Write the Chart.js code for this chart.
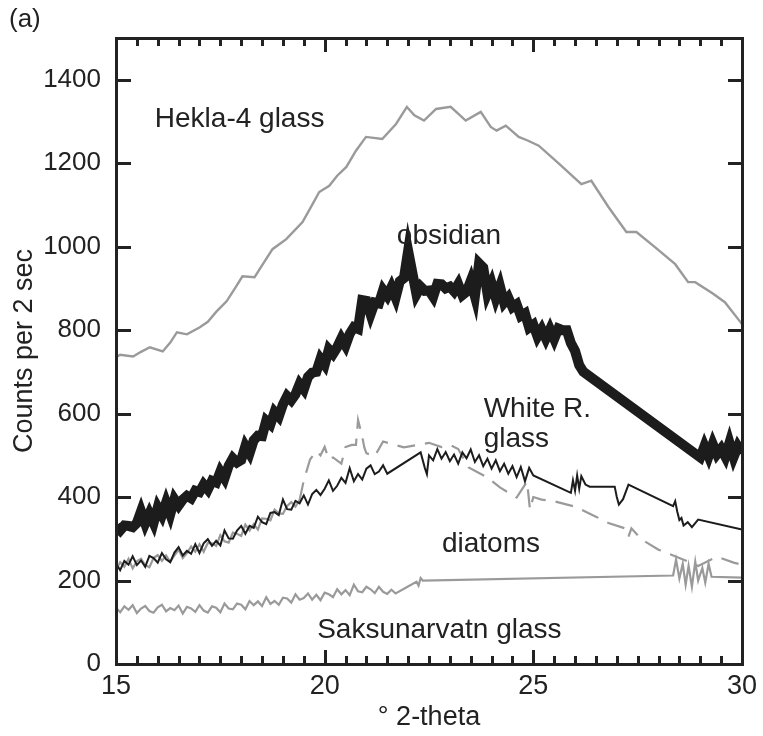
<!DOCTYPE html>
<html><head><meta charset="utf-8">
<script src="https://cdn.jsdelivr.net/npm/chart.js@4"></script>
<style>html,body{margin:0;padding:0;background:#fff;}#wrap{width:763px;height:736px;}</style>
</head><body><div id="wrap"><canvas id="c" width="763" height="736"></canvas></div>
<script>
// ---------- DATA ----------
const xTickLabels = [15, 20, 25, 30];
const yTickLabels = [0, 200, 400, 600, 800, 1000, 1200, 1400];

const heklaX = [15.0,15.1,15.41,15.6,15.81,16.12,16.3,16.46,16.7,17.01,17.2,17.41,17.65,17.85,18.03,18.32,18.5,18.75,19.08,19.47,19.7,19.87,20.11,20.3,20.52,20.75,20.99,21.38,21.71,21.97,22.15,22.38,22.67,23.02,23.38,23.74,23.98,24.12,24.34,24.65,24.85,25.13,25.6,26.15,26.39,26.8,27.23,27.47,27.9,28.4,28.71,28.88,29.3,29.59,29.95,30.0];
const heklaY = [735,741,737,748,759,749,770,795,790,807,820,845,869,900,929,927,955,994,1018,1059,1100,1131,1146,1170,1191,1230,1263,1258,1294,1335,1315,1302,1330,1335,1302,1323,1287,1278,1290,1263,1255,1242,1200,1150,1158,1095,1035,1035,1000,958,915,915,888,867,821,815];

const obsX = [15.0,15.1,15.2,15.3,15.4,15.5,15.6,15.7,15.8,15.9,16.0,16.1,16.2,16.3,16.4,16.5,16.6,16.7,16.8,16.9,17.0,17.1,17.2,17.3,17.4,17.5,17.6,17.7,17.8,17.9,18.0,18.1,18.2,18.3,18.4,18.5,18.6,18.7,18.8,18.9,19.0,19.1,19.2,19.3,19.4,19.5,19.6,19.7,19.8,19.9,20.0,20.1,20.2,20.3,20.4,20.5,20.6,20.7,20.8,20.9,21.0,21.1,21.2,21.3,21.4,21.5,21.6,21.7,21.8,21.9,22.0,22.1,22.2,22.3,22.4,22.5,22.6,22.7,22.8,22.9,23.0,23.1,23.2,23.3,23.4,23.5,23.6,23.7,23.8,23.9,24.0,24.1,24.2,24.3,24.4,24.5,24.6,24.7,24.8,24.9,25.0,25.1,25.2,25.3,25.4,25.5,25.6,25.7,25.8,25.9,26.0,26.1,26.2,29.0,29.1,29.2,29.3,29.4,29.5,29.6,29.7,29.8,29.9,30.0];
const obsY = [330,320,332,331,328,338,366,337,360,338,375,357,387,359,395,380,394,403,397,415,412,430,418,439,435,461,445,475,493,483,489,522,505,536,547,546,583,574,604,593,622,642,632,646,671,658,688,698,700,731,717,754,743,759,780,763,791,807,803,872,870,838,866,864,896,882,903,878,917,925,990,938,886,904,894,895,880,911,910,900,904,893,910,884,892,918,881,960,950,888,912,877,905,866,878,855,862,834,840,806,813,785,802,780,802,779,804,800,800,769,750,716,700,495,522,498,527,503,516,497,530,496,521,505];

const whiteX = [15.0,15.1,15.2,15.3,15.4,15.5,15.6,15.7,15.8,15.9,16.0,16.1,16.2,16.3,16.4,16.5,16.6,16.7,16.8,16.9,17.0,17.1,17.2,17.3,17.4,17.5,17.6,17.7,17.8,17.9,18.0,18.1,18.2,18.3,18.4,18.5,18.6,18.7,18.8,18.9,19.0,19.1,19.2,19.3,19.4,19.5,19.6,19.7,19.8,19.9,20.0,20.1,20.2,20.3,20.4,20.5,20.6,20.7,20.8,20.9,21.0,21.1,21.2,21.3,21.4,21.5,22.3,22.4,22.45,22.5,22.6,22.7,22.8,22.9,23.0,23.1,23.2,23.3,23.4,23.5,23.6,23.7,23.8,23.9,24.0,24.1,24.2,24.3,24.4,24.5,24.6,24.7,24.8,24.9,25.0,25.9,25.95,26.0,26.05,26.1,26.15,26.25,26.35,26.95,27.0,27.05,27.15,27.28,28.35,28.4,28.45,28.5,28.55,28.6,28.7,28.8,28.9,28.95,30.0];
const whiteY = [240,225,247,238,258,237,248,233,259,254,243,266,251,244,267,280,260,271,264,287,266,289,299,283,295,284,320,301,300,320,331,312,331,326,353,340,335,362,364,357,394,371,370,391,385,404,382,407,417,405,420,440,415,427,446,434,469,438,455,442,468,476,455,461,476,456,507,470,455,500,488,515,492,508,486,502,480,507,493,514,484,500,474,492,468,488,462,480,456,474,448,472,438,470,452,410,440,415,452,420,450,430,425,425,400,382,395,430,378,390,365,345,350,332,340,328,340,346,322];

const diatX = [15.0,15.1,15.2,15.3,15.4,15.5,15.6,15.7,15.8,15.9,16.0,16.1,16.2,16.3,16.4,16.5,16.6,16.7,16.8,16.9,17.0,17.1,17.2,17.3,17.4,17.5,17.6,17.7,17.8,17.9,18.0,18.1,18.2,18.3,18.4,18.5,18.6,18.7,18.8,18.9,19.0,19.1,19.2,19.3,19.4,19.5,19.65,19.8,19.9,20.0,20.1,20.2,20.4,20.5,20.65,20.75,20.8,20.9,20.95,21.0,21.2,21.4,21.9,22.5,22.8,23.0,23.2,23.45,23.9,24.2,24.6,24.85,24.92,25.0,25.2,25.5,26.0,26.5,26.8,27.2,27.28,27.35,27.6,28.0,28.6,28.95,29.4,29.8,30.0];
const diatY = [226,244,233,252,229,246,252,237,232,254,261,247,260,245,260,274,254,266,282,269,287,269,290,289,283,309,294,291,315,312,307,334,320,335,322,349,348,344,370,361,360,379,388,377,393,440,490,510,500,520,490,495,480,520,525,525,585,545,519,505,498,533,519,530,520,525,515,471,447,423,399,437,370,400,394,390,377,353,338,325,305,325,298,274,250,235,257,243,238];
const diatDashFrom = 19.4;

const saksX = [15.0,15.1,15.2,15.3,15.4,15.5,15.6,15.7,15.8,15.9,16.0,16.1,16.2,16.3,16.4,16.5,16.6,16.7,16.8,16.9,17.0,17.1,17.2,17.3,17.4,17.5,17.6,17.7,17.8,17.9,18.0,18.1,18.2,18.3,18.4,18.5,18.6,18.7,18.8,18.9,19.0,19.1,19.2,19.3,19.4,19.5,19.6,19.7,19.8,19.9,20.0,20.1,20.2,20.3,20.4,20.5,20.6,20.7,20.8,20.9,21.0,21.1,21.2,21.3,21.4,21.5,21.6,21.7,22.2,22.25,22.3,22.35,28.35,28.42,28.5,28.58,28.65,28.72,28.8,28.88,28.95,29.05,29.12,29.2,29.27,30.0];
const saksY = [135,124,138,130,141,122,133,139,127,123,136,142,126,134,129,140,121,137,133,125,141,128,123,138,135,124,145,133,131,145,142,131,151,141,150,139,160,144,151,142,159,157,147,167,154,158,169,154,166,153,171,167,160,179,167,177,165,190,174,172,185,179,170,185,173,168,178,169,197,188,206,200,212,250,205,240,190,235,185,245,200,230,195,240,209,207];

const annotText = ["Hekla-4 glass", "obsidian", "White R.", "glass", "diatoms", "Saksunarvatn glass"];
const annotX = [15.93, 21.73, 23.81, 23.81, 22.81, 19.82];
const annotY = [1287, 1006, 591, 521, 269, 62];

// ---------- CHART ----------
const FONT = "'Liberation Sans', Arial, Helvetica, sans-serif";
const pts = (xs, ys) => xs.map((x, i) => ({x: x, y: ys[i]}));
const GRAY = '#9a9a9a', BLACK = '#1c1c1c', AXIS = '#222222';

function drawFrame(chart) {
  const ctx = chart.ctx, a = chart.chartArea;
  const x = chart.scales.x, y = chart.scales.y;
  const L = Math.round(a.left), R = Math.round(a.right), T = Math.round(a.top), B = Math.round(a.bottom);
  ctx.save();
  ctx.setLineDash([]);
  ctx.fillStyle = AXIS;
  // frame (3 px)
  ctx.fillRect(L - 1, T - 1, R - L + 3, 3);
  ctx.fillRect(L - 1, B - 1, R - L + 3, 3);
  ctx.fillRect(L - 1, T - 1, 3, B - T + 3);
  ctx.fillRect(R - 1, T - 1, 3, B - T + 3);
  // inward x ticks: major at labels, minor every 0.5
  for (let k = 0; k <= 30; k++) {
    const px = Math.round(x.getPixelForValue(15 + k * 0.5));
    const len = (k % 10 === 0) ? 14 : 8;
    ctx.fillRect(px - 1, B - len, 3, len);
    ctx.fillRect(px - 1, T, 3, len);
  }
  // inward y ticks, left and right
  yTickLabels.forEach(v => {
    const py = Math.round(y.getPixelForValue(v));
    ctx.fillRect(L, py - 1, 15, 3);
    ctx.fillRect(R - 14, py - 1, 15, 3);
  });
  // curve labels
  ctx.fillStyle = '#222';
  ctx.font = '28px ' + FONT;
  ctx.textAlign = 'left'; ctx.textBaseline = 'alphabetic';
  annotText.forEach((t, i) => {
    ctx.fillText(t, x.getPixelForValue(annotX[i]), y.getPixelForValue(annotY[i]));
  });
  ctx.font = '26px ' + FONT;
  ctx.fillText('(a)', 9, 27);
  ctx.restore();
}

new Chart(document.getElementById('c'), {
  type: 'line',
  data: {
    datasets: [
      {label: 'obsidian', data: pts(obsX, obsY), borderColor: BLACK, borderWidth: 10, order: 1},
      {label: 'White R. glass', data: pts(whiteX, whiteY), borderColor: BLACK, borderWidth: 2, order: 2},
      {label: 'diatoms', data: pts(diatX, diatY), borderColor: GRAY, borderWidth: 2.2, order: 3,
        segment: {borderDash: c => c.p0.parsed.x >= diatDashFrom ? [18, 10] : undefined}},
      {label: 'Saksunarvatn glass', data: pts(saksX, saksY), borderColor: GRAY, borderWidth: 2.2, order: 4},
      {label: 'Hekla-4 glass', data: pts(heklaX, heklaY), borderColor: GRAY, borderWidth: 2.4, order: 5}
    ]
  },
  options: {
    responsive: false, animation: false,
    devicePixelRatio: 1,
    layout: {padding: {top: 38, right: 19, left: 0, bottom: 0}},
    elements: {point: {radius: 0}, line: {tension: 0, fill: false, borderJoinStyle: 'miter'}},
    plugins: {legend: {display: false}, tooltip: {enabled: false}},
    scales: {
      x: {
        type: 'linear', min: 15, max: 30,
        afterFit: s => { s.height = 72; },
        afterBuildTicks: s => { s.ticks = xTickLabels.map(v => ({value: v})); },
        grid: {display: false, drawTicks: false},
        border: {display: false},
        ticks: {color: '#222', font: {size: 27, family: FONT}, padding: 6, maxRotation: 0, autoSkip: false,
          callback: v => String(v)},
        title: {display: true, text: '° 2-theta', color: '#222', font: {size: 27, family: FONT}, padding: {top: 0, bottom: 2}}
      },
      y: {
        type: 'linear', min: 0, max: 1500,
        afterFit: s => { s.width = 116; },
        afterBuildTicks: s => { s.ticks = yTickLabels.map(v => ({value: v})); },
        grid: {display: false, drawTicks: false},
        border: {display: false},
        ticks: {color: '#222', font: {size: 26, family: FONT}, padding: 15, autoSkip: false,
          callback: v => String(v)},
        title: {display: true, text: 'Counts per 2 sec', color: '#222', font: {size: 27, family: FONT}, padding: {top: 8, bottom: 0}}
      }
    }
  },
  plugins: [{id: 'frame', afterDraw: drawFrame}]
});
</script></body></html>
